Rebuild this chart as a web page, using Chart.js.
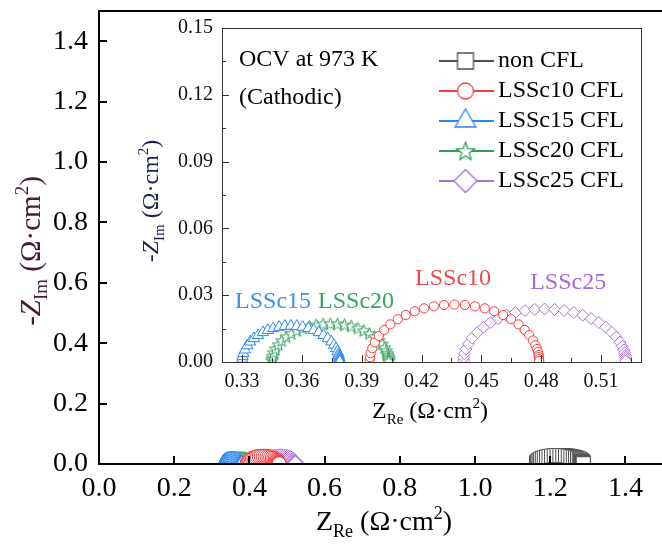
<!DOCTYPE html>
<html><head><meta charset="utf-8">
<script src="https://cdn.jsdelivr.net/npm/chart.js@4.4.1/dist/chart.umd.min.js"></script>
<style>
html,body{margin:0;padding:0;background:#fff;overflow:hidden;width:662px;height:546px}
#main{position:absolute;left:0;top:0;width:674px;height:546px}
#inset{position:absolute;left:130px;top:0;width:532px;height:430px}
</style></head><body>
<div id="main"><canvas id="c1" width="674" height="546"></canvas></div>
<div id="inset"><canvas id="c2" width="532" height="430"></canvas></div>
<script>
// ---------- data ----------
const seriesNames = ['non CFL','LSSc10 CFL','LSSc15 CFL','LSSc20 CFL','LSSc25 CFL'];
const nonCflX = [1.1640,1.1642,1.1648,1.1658,1.1677,1.1708,1.1746,1.1792,1.1845,1.1904,1.1969,1.2038,1.2110,1.2184,1.2260,1.2336,1.2410,1.2482,1.2551,1.2616,1.2675,1.2728,1.2774,1.2807,1.2835,1.2853,1.2864,1.2871,1.2875,1.2878,1.2879,1.2880];
const nonCflY = [0.0010,0.0024,0.0044,0.0068,0.0096,0.0127,0.0157,0.0184,0.0208,0.0229,0.0247,0.0261,0.0272,0.0278,0.0280,0.0278,0.0272,0.0261,0.0247,0.0229,0.0208,0.0184,0.0157,0.0131,0.0105,0.0082,0.0063,0.0049,0.0034,0.0024,0.0015,0.0005];
const lssc10X = [0.3940,0.3942,0.3945,0.3953,0.3966,0.3986,0.4013,0.4044,0.4081,0.4121,0.4166,0.4213,0.4262,0.4313,0.4365,0.4417,0.4468,0.4517,0.4564,0.4609,0.4649,0.4686,0.4717,0.4740,0.4759,0.4771,0.4779,0.4784,0.4787,0.4788,0.4789,0.4790];
const lssc10Y = [0.0009,0.0022,0.0040,0.0062,0.0088,0.0117,0.0144,0.0169,0.0192,0.0211,0.0228,0.0241,0.0250,0.0256,0.0258,0.0256,0.0250,0.0241,0.0228,0.0211,0.0192,0.0169,0.0144,0.0121,0.0097,0.0075,0.0058,0.0045,0.0031,0.0022,0.0013,0.0005];
const lssc15X = [0.3300,0.3301,0.3303,0.3307,0.3315,0.3327,0.3342,0.3360,0.3381,0.3405,0.3430,0.3457,0.3486,0.3515,0.3545,0.3575,0.3604,0.3633,0.3660,0.3685,0.3709,0.3730,0.3748,0.3761,0.3772,0.3779,0.3784,0.3786,0.3788,0.3789,0.3790,0.3790];
const lssc15Y = [0.0006,0.0014,0.0025,0.0039,0.0055,0.0074,0.0091,0.0106,0.0120,0.0133,0.0143,0.0151,0.0157,0.0161,0.0162,0.0161,0.0157,0.0151,0.0143,0.0133,0.0120,0.0106,0.0091,0.0076,0.0061,0.0047,0.0036,0.0028,0.0020,0.0014,0.0008,0.0003];
const lssc20X = [0.3450,0.3451,0.3454,0.3459,0.3468,0.3482,0.3500,0.3522,0.3547,0.3575,0.3605,0.3638,0.3672,0.3707,0.3743,0.3779,0.3814,0.3848,0.3881,0.3911,0.3939,0.3964,0.3986,0.4002,0.4015,0.4023,0.4029,0.4032,0.4034,0.4035,0.4036,0.4036];
const lssc20Y = [0.0006,0.0015,0.0027,0.0042,0.0059,0.0078,0.0096,0.0113,0.0128,0.0141,0.0152,0.0161,0.0167,0.0171,0.0172,0.0171,0.0167,0.0161,0.0152,0.0141,0.0128,0.0113,0.0096,0.0081,0.0064,0.0050,0.0039,0.0030,0.0021,0.0015,0.0009,0.0003];
const lssc25X = [0.4410,0.4412,0.4415,0.4422,0.4435,0.4454,0.4480,0.4510,0.4545,0.4584,0.4626,0.4671,0.4719,0.4767,0.4817,0.4867,0.4915,0.4963,0.5008,0.5050,0.5089,0.5124,0.5154,0.5176,0.5194,0.5206,0.5214,0.5218,0.5221,0.5223,0.5223,0.5224];
const lssc25Y = [0.0008,0.0021,0.0037,0.0058,0.0081,0.0108,0.0133,0.0156,0.0177,0.0195,0.0210,0.0222,0.0231,0.0236,0.0238,0.0236,0.0231,0.0222,0.0210,0.0195,0.0177,0.0156,0.0133,0.0112,0.0089,0.0070,0.0054,0.0041,0.0029,0.0021,0.0012,0.0004];

const mainXTicks = [0,0.2,0.4,0.6,0.8,1.0,1.2,1.4];
const mainXTickLabels = ['0.0','0.2','0.4','0.6','0.8','1.0','1.2','1.4'];
const mainYTicks = [0,0.2,0.4,0.6,0.8,1.0,1.2,1.4];
const mainYTickLabels = ['0.0','0.2','0.4','0.6','0.8','1.0','1.2','1.4'];
const insetXTicks = [0.33,0.36,0.39,0.42,0.45,0.48,0.51];
const insetXTickLabels = ['0.33','0.36','0.39','0.42','0.45','0.48','0.51'];
const insetYTicks = [0,0.03,0.06,0.09,0.12,0.15];
const insetYTickLabels = ['0.00','0.03','0.06','0.09','0.12','0.15'];

const seriesX = [nonCflX, lssc10X, lssc15X, lssc20X, lssc25X];
const seriesY = [nonCflY, lssc10Y, lssc15Y, lssc20Y, lssc25Y];

// ---------- styles ----------
const FAM = '"Liberation Serif","Times New Roman",serif';
const colors = ['#505050','#f53b3b','#2b88f0','#2e9d57','#a970dc'];
const shapes = ['rect','circle','triangle','star','rectRot'];
const mainRadius = [10,7,8,8,8];
const insetRadius = [6,4.6,6.5,6,6];

function starPath(g, cx, cy, R){
  g.beginPath();
  for(let i=0;i<10;i++){
    const r = i%2 ? R*0.42 : R;
    const a = -Math.PI/2 + i*Math.PI/5;
    const px = cx + r*Math.cos(a), py = cy + r*Math.sin(a);
    if(i) g.lineTo(px,py); else g.moveTo(px,py);
  }
  g.closePath();
}
function markerPath(g, kind, cx, cy, r){
  if(kind==='star'){ starPath(g,cx,cy+r*0.08,r); return; }
  g.beginPath();
  if(kind==='rect') g.rect(cx-r,cy-r,2*r,2*r);
  else if(kind==='circle') g.arc(cx,cy,r,0,2*Math.PI);
  else if(kind==='triangle'){ g.moveTo(cx,cy-r); g.lineTo(cx+r*0.866,cy+r*0.5); g.lineTo(cx-r*0.866,cy+r*0.5); g.closePath(); }
  else if(kind==='rectRot'){ g.moveTo(cx,cy-r); g.lineTo(cx+r,cy); g.lineTo(cx,cy+r); g.lineTo(cx-r,cy); g.closePath(); }
}
function starImage(R, color, lw){
  const s = Math.ceil(R*2+4);
  const c = document.createElement('canvas'); c.width=s; c.height=s;
  const g = c.getContext('2d');
  markerPath(g,'star',s/2,s/2,R);
  g.fillStyle='#fff'; g.fill(); g.strokeStyle=color; g.lineWidth=lw; g.stroke();
  return c;
}
const legendSizes = [8,8,12,9.5,11.5];
function legendIcon(i){
  const w=56,h=26;
  const c=document.createElement('canvas'); c.width=w; c.height=h;
  const g=c.getContext('2d');
  g.strokeStyle=colors[i]; g.lineWidth=1.8;
  g.beginPath(); g.moveTo(0,h/2); g.lineTo(w,h/2); g.stroke();
  markerPath(g,shapes[i],w/2,h/2,legendSizes[i]);
  g.fillStyle='#fff'; g.fill(); g.lineWidth=1.3; g.stroke();
  return c;
}

function makeDatasets(radii, starR){
  return seriesNames.map((name,i)=>({
    label:name,
    data: seriesX[i].map((x,j)=>({x:x,y:seriesY[i][j]})),
    showLine:false,
    pointStyle: shapes[i]==='star' ? starImage(starR, colors[i], 1) : shapes[i],
    pointRadius: radii[i],
    pointBorderColor: colors[i],
    pointBackgroundColor:'#fff',
    pointBorderWidth:1,
    borderColor: colors[i],
    backgroundColor:'#fff'
  }));
}

function drawRich(ctx, parts, cx, cy, size, rot, color){
  ctx.save(); ctx.translate(cx,cy); ctx.rotate(rot);
  const fontFor = k => (k==='i'?'italic ':'') + ((k==='sub'||k==='sup') ? Math.round(size*0.64) : size) + 'px ' + FAM;
  let total=0; const ws=[];
  parts.forEach(([t,k])=>{ ctx.font=fontFor(k); const w=ctx.measureText(t).width; ws.push(w); total+=w; });
  let x=-total/2;
  ctx.fillStyle=color; ctx.textBaseline='alphabetic'; ctx.textAlign='left';
  const base=size*0.33;
  parts.forEach(([t,k],i)=>{
    ctx.font=fontFor(k);
    let dy=base;
    if(k==='sub') dy+=size*0.24;
    if(k==='sup') dy-=size*0.40;
    ctx.fillText(t,x,dy); x+=ws[i];
  });
  ctx.restore();
}
const zreTitle = [['Z','n'],['Re','sub'],[' (\u03A9\u00B7cm','n'],['2','sup'],[')','n']];
const zimTitle = [['-Z','i'],['Im','sub'],[' (\u03A9\u00B7cm','n'],['2','sup'],[')','n']];

function frameTicks(chart, o){
  const {ctx, chartArea:a, scales:{x,y}} = chart;
  ctx.save();
  ctx.strokeStyle=o.color; ctx.lineWidth=o.width;
  const line=(x1,y1,x2,y2)=>{ctx.beginPath();ctx.moveTo(x1,y1);ctx.lineTo(x2,y2);ctx.stroke();};
  const snap=v=> o.width%2 ? Math.round(v)+0.5 : Math.round(v);
  o.xMajor.forEach(v=>{const p=snap(x.getPixelForValue(v)); line(p,a.bottom,p,a.bottom-o.major);});
  o.yMajor.forEach(v=>{const p=snap(y.getPixelForValue(v)); line(a.left,p,a.left+o.major,p);});
  if(o.minor){
    const mids=arr=>{const r=[];for(let i=0;i<arr.length-1;i++) r.push((arr[i]+arr[i+1])/2); r.unshift(arr[0]-(arr[1]-arr[0])/2); r.push(arr[arr.length-1]+(arr[1]-arr[0])/2); return r;};
    mids(o.xMajor).forEach(v=>{ if(v<x.min||v>x.max) return; const p=snap(x.getPixelForValue(v)); line(p,a.bottom,p,a.bottom-o.minor);});
    mids(o.yMajor).forEach(v=>{ if(v<y.min||v>y.max) return; const p=snap(y.getPixelForValue(v)); line(a.left,p,a.left+o.minor,p);});
  }
  const L=snap(a.left), T=snap(a.top), R=snap(a.right), B=snap(a.bottom);
  ctx.strokeRect(L,T,R-L,B-T);
  ctx.restore();
}

// ---------- main chart ----------
new Chart(document.getElementById('c1'), {
  type:'scatter',
  data:{datasets: makeDatasets(mainRadius, 8)},
  options:{
    responsive:false, animation:false, devicePixelRatio:1, events:[],
    layout:{padding:{left:0,top:4,right:1.25,bottom:0}},
    plugins:{legend:{display:false}, tooltip:{enabled:false}},
    scales:{
      x:{type:'linear',min:0,max:1.5,
        afterBuildTicks:s=>{s.ticks=mainXTicks.map(v=>({value:v}));},
        ticks:{callback:(v,i)=>mainXTickLabels[i],font:{family:FAM,size:28},color:'#000',padding:8,maxRotation:0,autoSkip:false},
        grid:{display:false,drawTicks:false}, border:{display:false},
        afterFit:s=>{s.height=82;s.paddingLeft=0;s.paddingRight=0;}},
      y:{type:'linear',min:0,max:1.5,
        afterBuildTicks:s=>{s.ticks=mainYTicks.map(v=>({value:v}));},
        ticks:{callback:(v,i)=>mainYTickLabels[i],font:{family:FAM,size:28},color:'#000',padding:11,autoSkip:false},
        grid:{display:false,drawTicks:false}, border:{display:false},
        afterFit:s=>{s.width=99;s.paddingTop=0;s.paddingBottom=0;}}
    }
  },
  plugins:[{id:'mainDeco', afterDraw(chart){
    frameTicks(chart,{color:'#000',width:2,major:8,xMajor:mainXTicks,yMajor:mainYTicks});
    const ctx=chart.ctx;
    drawRich(ctx,zreTitle,384,521,28,0,'#000');
    drawRich(ctx,zimTitle,30,251,29,-Math.PI/2,'#4a1a3a');
  }}]
});

// ---------- inset chart ----------
const insetNotes = [
  {text:'LSSc15', x:0.3456, y:0.0273, color:'#3a8ef5'},
  {text:'LSSc20', x:0.3872, y:0.0273, color:'#35a366'},
  {text:'LSSc10', x:0.4358, y:0.0372, color:'#f04848'},
  {text:'LSSc25', x:0.4935, y:0.0358, color:'#a66ad9'}
];
const legendIcons = seriesNames.map((n,i)=>legendIcon(i));
new Chart(document.getElementById('c2'), {
  type:'scatter',
  data:{datasets: makeDatasets(insetRadius, 6.5)},
  options:{
    responsive:false, animation:false, devicePixelRatio:1, events:[],
    layout:{padding:{left:0,top:28,right:21,bottom:0}},
    plugins:{
      tooltip:{enabled:false},
      legend:{display:true, position:'chartArea', align:'start',
        labels:{usePointStyle:true, pointStyleWidth:41, padding:6, color:'#000', font:{family:FAM,size:24},
          generateLabels: chart => chart.data.datasets.map((ds,i)=>({text:ds.label, pointStyle:legendIcons[i], fontColor:'#000', hidden:false, datasetIndex:i, lineWidth:0, strokeStyle:'rgba(0,0,0,0)', fillStyle:'rgba(0,0,0,0)'}))}}
    },
    scales:{
      x:{type:'linear',min:0.32,max:0.53,
        afterBuildTicks:s=>{s.ticks=insetXTicks.map(v=>({value:v}));},
        ticks:{callback:(v,i)=>insetXTickLabels[i],font:{family:FAM,size:20},color:'#111',padding:8,maxRotation:0,autoSkip:false},
        grid:{display:false,drawTicks:false}, border:{display:false},
        afterFit:s=>{s.height=68;s.paddingLeft=0;s.paddingRight=0;}},
      y:{type:'linear',min:0,max:0.15,
        afterBuildTicks:s=>{s.ticks=insetYTicks.map(v=>({value:v}));},
        ticks:{callback:(v,i)=>insetYTickLabels[i],font:{family:FAM,size:20},color:'#111',padding:9,autoSkip:false},
        grid:{display:false,drawTicks:false}, border:{display:false},
        afterFit:s=>{s.width=92;s.paddingTop=0;s.paddingBottom=0;}}
    }
  },
  plugins:[{id:'insetDeco',
    afterLayout(chart){
      const L=chart.legend; if(!L) return;
      const a=chart.chartArea;
      L.left=a.left+217; L.top=a.top+15; L.right=L.left+250; L.bottom=L.top+175;
    },
    afterDraw(chart){
      frameTicks(chart,{color:'#333',width:1,major:7,minor:4,xMajor:insetXTicks,yMajor:insetYTicks});
      const ctx=chart.ctx, {x,y}=chart.scales;
      ctx.save();
      ctx.font='24px '+FAM; ctx.textAlign='center'; ctx.textBaseline='middle';
      insetNotes.forEach(n=>{ctx.fillStyle=n.color; ctx.fillText(n.text, x.getPixelForValue(n.x), y.getPixelForValue(n.y));});
      ctx.fillStyle='#000'; ctx.textAlign='left';
      ctx.fillText('OCV at 973 K', chart.chartArea.left+17, chart.chartArea.top+32);
      ctx.fillText('(Cathodic)', chart.chartArea.left+17, chart.chartArea.top+70);
      ctx.restore();
      drawRich(ctx,zreTitle,300,410,24,0,'#000');
      drawRich(ctx,zimTitle,20,201,24,-Math.PI/2,'#1d2150');
    }
  }]
});
</script>
</body></html>
